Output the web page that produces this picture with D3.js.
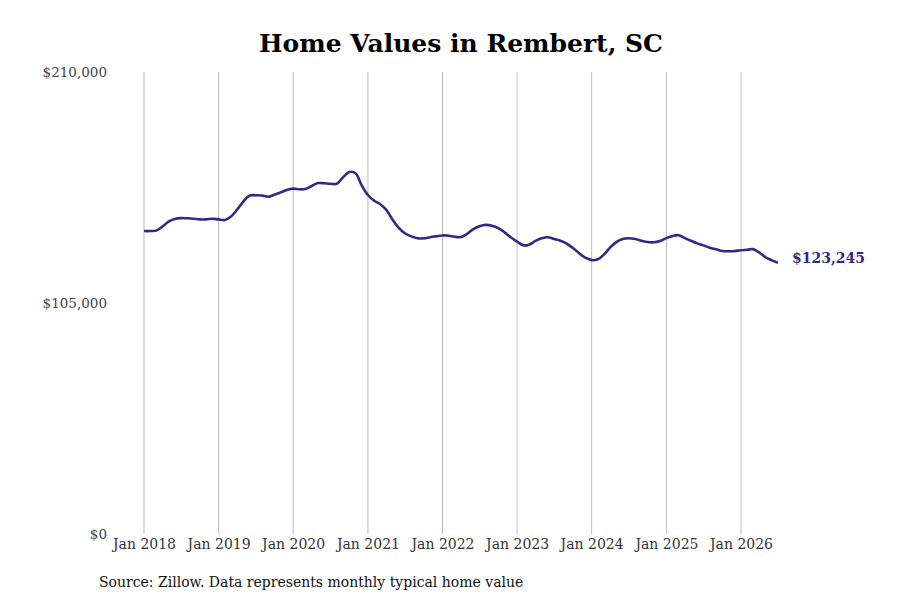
<!DOCTYPE html>
<html>
<head>
<meta charset="utf-8">
<script src="https://cdn.jsdelivr.net/npm/d3@7"></script>
<style>
  body { margin: 0; background: #fff; }
  svg text { font-family: "DejaVu Serif", serif; }
</style>
</head>
<body>
<svg id="chart" width="900" height="600"></svg>
<script>
// monthly typical home value, Jan 2018 .. Jul 2026
let values = [
    137700, 137700, 137900, 139700, 142000, 143200, 143600, 143500, 143300, 143000, 143000, 143300,
    143000, 142700, 144200, 147300, 151000, 153800, 154000, 153900, 153300, 154200, 155300, 156400,
    157000, 156700, 156800, 158200, 159500, 159400, 159200, 159200, 162100, 164500, 164000, 158600,
    154100, 151500, 150000, 147300, 143000, 139200, 136700, 135300, 134400, 134400, 134900, 135300,
    135700, 135600, 135100, 135000, 136400, 138600, 139900, 140500, 140100, 139000, 137100, 134900,
    132900, 131200, 131500, 133200, 134400, 134900, 134100, 133300, 132000, 130000, 127600, 125600,
    124500, 124900, 127000, 130300, 132700, 134100, 134400, 134100, 133300, 132700, 132600, 133200,
    134500, 135500, 135800, 134500, 133300, 132100, 131200, 130100, 129400, 128600, 128500, 128600,
    129000, 129200, 129500, 127900, 125800, 124400, 123245
];
let yTicks = [0, 105000, 210000];
let xTickYears = [2018, 2019, 2020, 2021, 2022, 2023, 2024, 2025, 2026];

let lineColor = '#2e2b87';

let data = values.map(function (v, i) {
    return [new Date(2018, i, 1), v];
});

let svg = d3.select("#chart");

let x = d3.scaleTime()
    .domain([new Date(2018, 0, 1), new Date(2026, 0, 1)])
    .range([144, 741]);
let y = d3.scaleLinear().domain([0, 210000]).range([534, 72]);

// vertical grid lines at each january
svg.append("g")
    .selectAll("line")
    .data(xTickYears)
    .join("line")
    .attr("x1", d => x(new Date(d, 0, 1)))
    .attr("x2", d => x(new Date(d, 0, 1)))
    .attr("y1", y(210000))
    .attr("y2", y(0))
    .attr("stroke", "#bdbdbd")
    .attr("stroke-width", 1);

// x axis labels
let xAxis = d3.axisBottom(x)
    .tickValues(xTickYears.map(d => new Date(d, 0, 1)))
    .tickFormat(d3.timeFormat("Jan %Y"))
    .tickSize(0)
    .tickPadding(5);
let gx = svg.append("g")
    .attr("transform", "translate(0," + y(0) + ")")
    .call(xAxis);
gx.select(".domain").remove();
gx.selectAll("text")
    .attr("fill", "#333")
    .style("font-size", "14px");

// y axis labels
let yAxis = d3.axisLeft(y)
    .tickValues(yTicks)
    .tickFormat(d => "$" + d3.format(",")(d))
    .tickSize(0)
    .tickPadding(0);
let gy = svg.append("g")
    .attr("transform", "translate(107,0)")
    .call(yAxis);
gy.select(".domain").remove();
gy.selectAll("text")
    .attr("fill", "#444")
    .style("font-size", "13.5px");

// the line
let valueline = d3.line()
    .x(d => x(d[0]))
    .y(d => y(d[1]))
    .curve(d3.curveCatmullRom);

svg.append("path")
    .datum(data)
    .attr("fill", "none")
    .attr("stroke", lineColor)
    .attr("stroke-width", 2.6)
    .attr("stroke-linejoin", "round")
    .attr("d", valueline);

// last value label
let last = data[data.length - 1];
svg.append("text")
    .attr("x", x(last[0]) + 14)
    .attr("y", y(last[1]) - 5)
    .attr("dy", "0.35em")
    .attr("fill", lineColor)
    .style("font-size", "14px")
    .style("font-weight", "bold")
    .text("$" + d3.format(",")(last[1]));

// title
svg.append("text")
    .attr("x", 461)
    .attr("y", 52)
    .attr("text-anchor", "middle")
    .attr("fill", "#000")
    .style("font-size", "25px")
    .style("font-weight", "bold")
    .text("Home Values in Rembert, SC");

// source note
svg.append("text")
    .attr("x", 99)
    .attr("y", 587)
    .attr("fill", "#111")
    .style("font-size", "14px")
    .text("Source: Zillow. Data represents monthly typical home value");
</script>
</body>
</html>
